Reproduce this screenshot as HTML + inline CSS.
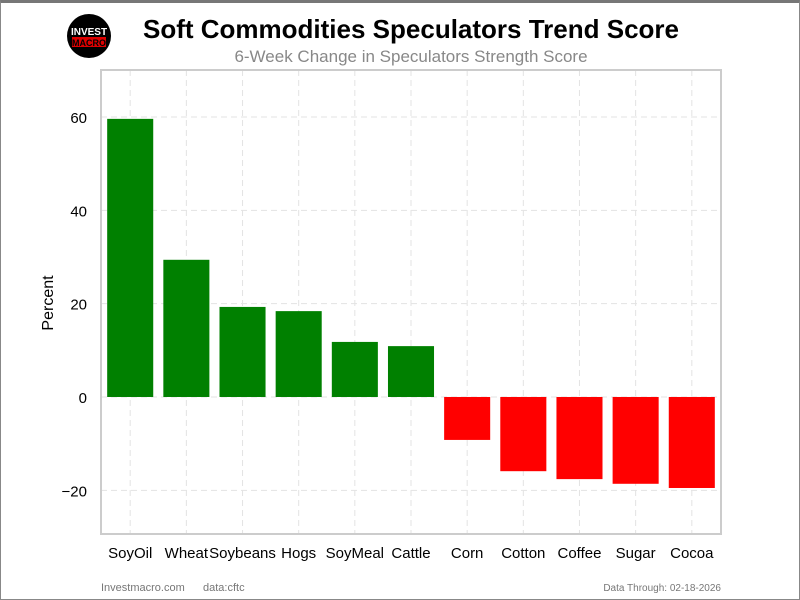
<!DOCTYPE html>
<html><head><meta charset="utf-8"><style>
body{margin:0;background:#fff;font-family:"Liberation Sans",sans-serif}
#wrap{position:relative;width:800px;height:600px;box-sizing:border-box;border:1px solid #888;border-top:3px solid #777}
</style></head><body>
<div id="wrap">
<svg id="chart" width="798" height="596" style="position:absolute;left:0;top:0">
<g>
<circle cx="88" cy="33" r="22" fill="#000"/>
<text x="88" y="32" font-size="10" font-weight="bold" fill="#fff" text-anchor="middle">INVEST</text>
<rect x="71" y="34" width="34" height="10" fill="#d00"/>
<text x="88" y="43" font-size="9" font-weight="bold" fill="#000" text-anchor="middle">MACRO</text>
</g>
<text x="410" y="35" font-size="26" font-weight="bold" text-anchor="middle">Soft Commodities Speculators Trend Score</text>
<text x="410" y="59" font-size="17" fill="#888" text-anchor="middle">6-Week Change in Speculators Strength Score</text>
<g id="grid"></g><g id="bars"></g><g id="axes"></g>
<rect x="100" y="67" width="620" height="464" fill="none" stroke="#ccc" stroke-width="2"/>
<text x="52" y="300" font-size="16" text-anchor="middle" transform="rotate(-90 52 300)">Percent</text>
<text x="100" y="588" font-size="11" fill="#777">Investmacro.com</text>
<text x="202" y="588" font-size="11" fill="#777">data:cftc</text>
<text x="720" y="588" font-size="10" fill="#777" text-anchor="end">Data Through: 02-18-2026</text>
</svg>
</div>
<script>
const categories=["SoyOil","Wheat","Soybeans","Hogs","SoyMeal","Cattle","Corn","Cotton","Coffee","Sugar","Cocoa"];
const values=[59.6,29.4,19.3,18.4,11.8,10.9,-9.2,-15.9,-17.6,-18.6,-19.5];
const yTicks=[-20,0,20,40,60];
const yTickLabels=["\u221220","0","20","40","60"];
const NS="http://www.w3.org/2000/svg";
const L=100,R=720,T=67,B=531,YMIN=-29.36,YMAX=70.07,XMIN=-0.52,XMAX=10.52;
const y=v=>T+(YMAX-v)/(YMAX-YMIN)*(B-T);
const x=i=>L+(i-XMIN)/(XMAX-XMIN)*(R-L);
const step=(R-L)/(XMAX-XMIN), bw=step*0.82;
function mk(t,a,p){const e=document.createElementNS(NS,t);for(const k in a)e.setAttribute(k,a[k]);p.appendChild(e);return e;}
const g=document.getElementById('grid'),b=document.getElementById('bars'),ax=document.getElementById('axes');
yTicks.forEach((v,i)=>{
 const ln=mk('line',{x1:L,x2:R,y1:y(v),y2:y(v),stroke:'#e3e3e3','stroke-dasharray':'6,4'},g);
 
 
 const t=mk('text',{x:L-14,y:y(v)+6,'font-size':15,'text-anchor':'end'},ax);
 t.textContent=yTickLabels[i];
 
 
});
categories.forEach((c,i)=>{
 const ln=mk('line',{x1:x(i),x2:x(i),y1:T,y2:B,stroke:'#e3e3e3','stroke-dasharray':'6,4'},g);
 
 
 const v=values[i];
 const r=mk('rect',{x:x(i)-bw/2,y:Math.min(y(v),y(0)),width:bw,height:Math.abs(y(v)-y(0)),fill:v>=0?'#008000':'#ff0000'},b);
 
 
 const t=mk('text',{x:x(i),y:555,'font-size':15,'text-anchor':'middle'},ax);
 t.textContent=c;
 
 
});
</script>
</body></html>
